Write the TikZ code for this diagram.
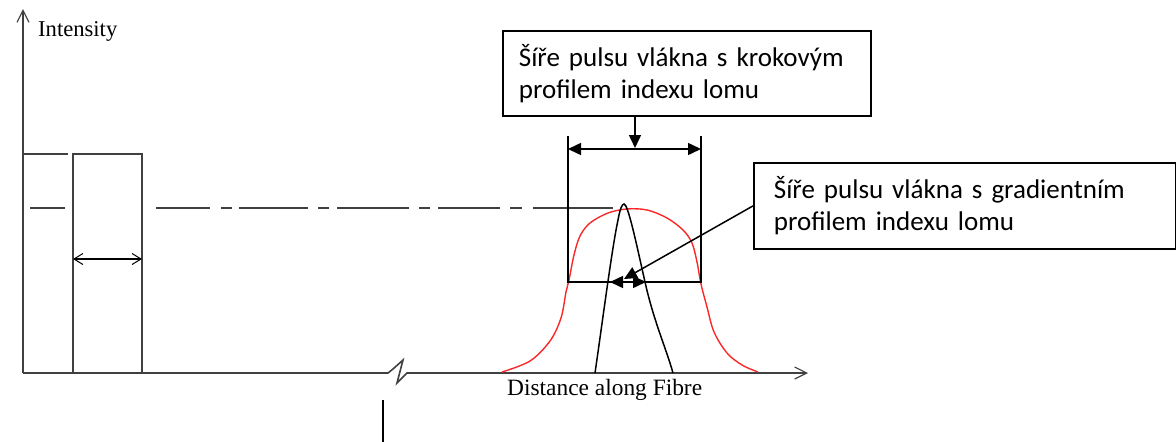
\documentclass[tikz,border=0pt]{standalone}
\usepackage{fontspec}
\setmainfont{Liberation Serif}
\newfontfamily\boxfont{Carlito}
\usetikzlibrary{arrows.meta}
\definecolor{axisgray}{RGB}{64,64,64}
\definecolor{pulsered}{RGB}{250,40,40}
\begin{document}
\begin{tikzpicture}[x=1pt,y=-1pt,
  axisline/.style={draw=axisgray, line width=1.6pt},
  barbtip/.style={-{Straight Barb[length=12pt,width=12pt,line width=1.2pt]}},
  dblbarb/.style={{Straight Barb[length=9pt,width=11pt,line width=1pt]}-{Straight Barb[length=9pt,width=11pt,line width=1pt]}},
  stepline/.style={draw=black, line width=2pt},
  pulseline/.style={draw=black, line width=1.5pt},
  redline/.style={draw=pulsered, line width=1.4pt},
  dashline/.style={draw=axisgray, line width=1.5pt},
  filledtip/.style={-{Triangle[length=13pt,width=12pt]}},
  dblfilled/.style={{Triangle[length=13pt,width=12pt]}-{Triangle[length=13pt,width=12pt]}},
  callbox/.style={draw=black, line width=1.8pt, anchor=north west, align=left,
    font=\boxfont\fontsize{27}{32}\selectfont, inner ysep=0pt},
  serlabel/.style={anchor=base west, inner sep=0pt}
]
\useasboundingbox (0,0) rectangle (1176,442);

% axes
\coordinate (O) at (23,373);
\coordinate (ytop) at (23,9);
\coordinate (xend) at (808,373);
\draw[axisline, barbtip] (O) -- (ytop);
\draw[axisline, barbtip] (O) -- (388,373) -- (393,369) -- (403,360) -- (397,383) -- (407,373) -- (xend);
\node[serlabel, font=\fontsize{22.6}{27}\selectfont] (ylabel) at (38,36) {Intensity};
\node[serlabel, font=\fontsize{23.4}{28}\selectfont] (xlabel) at (507,395) {Distance along Fibre};

% input pulse
\coordinate (a1) at (73,373);
\coordinate (a2) at (73,154);
\coordinate (a3) at (142,154);
\coordinate (a4) at (142,373);
\draw[axisline] (23,154) -- (68,154);
\draw[axisline] (a1) -- (a2) -- (a3) -- (a4);
\coordinate (w1) at (73,259);
\coordinate (w2) at (142,259);
\draw[draw=black, line width=1.3pt, dblbarb] (w1) -- (w2);

% dash-dot reference line
\draw[dashline] (30,208) -- (65,208);
\foreach \s/\e in {156/210,221/232,239/308,318/329,337/409,419/430,438/500,510/522,533/613}
  \draw[dashline] (\s,208) -- (\e,208);

% red (step index) pulse
\draw[redline] plot[smooth, tension=0.55] coordinates {
  (502,372) (530,361) (550,341) (561,318) (566,292) (569,280) (574,255) (580,236)
  (590,223) (608,213) (627,209) (647,210) (667,218) (683,230) (692,243)
  (697,262) (701,284) (707,307) (714,332) (727,353) (742,365) (758,372)};

% black (graded index) pulse
\coordinate (bl) at (595,373);
\coordinate (bp) at (624,204);
\coordinate (br) at (673,373);
\draw[pulseline] (bl) .. controls (603,318) and (612,248) .. (618,220)
  .. controls (620,209) and (622,204) .. (bp)
  .. controls (628,204) and (636,242) .. (645,282)
  .. controls (654,322) and (666,348) .. (br);

% step index width marker
\coordinate (stl) at (568,136);
\coordinate (sbl) at (568,282);
\coordinate (sbr) at (701,282);
\coordinate (str) at (701,136);
\draw[stepline] (stl) -- (sbl) -- (sbr) -- (str);
\coordinate (sw1) at (568,149);
\coordinate (sw2) at (701,149);
\draw[stepline, line width=1.5pt, dblfilled] (sw1) -- (sw2);
\coordinate (sdown) at (635,148);

% graded index width marker
\coordinate (g1) at (610,282);
\coordinate (g2) at (646,282);
\draw[stepline, line width=1.5pt, dblfilled] (g1) -- (g2);
\coordinate (gtip) at (624,279);

% callout boxes
\node[callbox, minimum width=368pt, minimum height=85pt, text width=336pt, inner xsep=16pt]
  (box1) at (502,30) {Šíře pulsu vlákna s krokovým\\profilem indexu lomu};
\node[callbox, minimum width=422pt, minimum height=86pt, text width=382pt, inner xsep=20pt]
  (box2) at (753,162) {Šíře pulsu vlákna s gradientním\\profilem indexu lomu};

\draw[pulseline, filledtip] (box1.south -| sdown) -- (sdown);
\draw[pulseline, filledtip] (box2.west) -- (gtip);

% lone mark below the axis
\coordinate (m1) at (383,400);
\coordinate (m2) at (383,442);
\draw[draw=black, line width=2pt] (m1) -- (m2);
\end{tikzpicture}
\end{document}
